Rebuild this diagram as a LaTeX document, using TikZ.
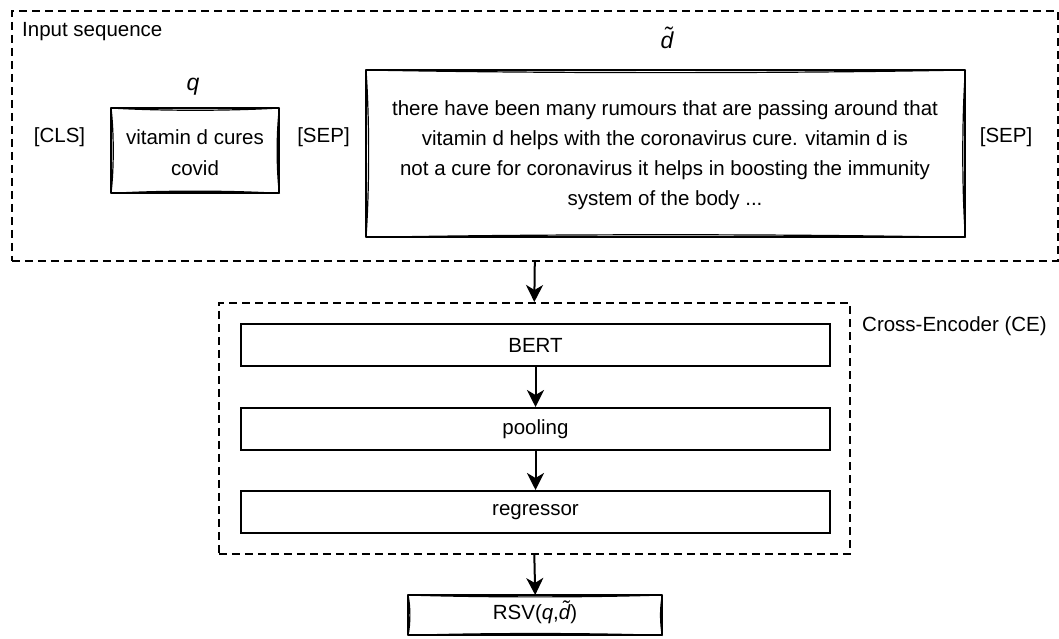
\documentclass[tikz,border=0pt]{standalone}
\usepackage{fontspec}
\setmainfont{Liberation Sans}
\usetikzlibrary{arrows.meta,calc}

\tikzset{
  txt/.style={font=\fontsize{20.5}{30}\selectfont, inner sep=0pt, align=center},
  biglabel/.style={font=\fontsize{23}{28}\selectfont\itshape, inner sep=0pt},
  dashbox/.style={draw, line width=1.6pt, dash pattern=on 8pt off 5pt, inner sep=0pt, anchor=north west},
  layerbox/.style={draw, line width=2pt, inner sep=0pt, anchor=north west, minimum width=589pt, minimum height=42pt, txt},
  roughnode/.style={inner sep=0pt, anchor=north west},
  arr/.style={line width=2pt, -{Stealth[length=17pt,width=17pt,inset=5pt]}},
  hand/.style={line width=2.1pt, line join=round},
  handthin/.style={line width=1.2pt},
}

% italic d carrying a tilde
\newcommand\dtil{\ooalign{d\cr\hidewidth\kern0.08em\raisebox{0.2em}{\char"02DC}\hidewidth\cr}}

% hand-drawn outline around a node: straight frame plus slightly bowed second strokes
\newcommand\roughframe[2]{%
  \draw[hand] (#1.north west) -- (#1.north east) -- (#1.south east) -- (#1.south west) -- cycle;
  \draw[handthin] (#1.north west) .. controls ($(#1.north west)!0.3!(#1.north east)+(0,#2)$) and ($(#1.north west)!0.7!(#1.north east)+(0,#2)$) .. (#1.north east);
  \draw[handthin] (#1.south west) .. controls ($(#1.south west)!0.3!(#1.south east)+(0,-#2)$) and ($(#1.south west)!0.7!(#1.south east)+(0,-#2)$) .. (#1.south east);
  \draw[handthin] (#1.north east) .. controls ($(#1.north east)!0.3!(#1.south east)+(-#2,0)$) and ($(#1.north east)!0.7!(#1.south east)+(-#2,0)$) .. (#1.south east);
  \draw[handthin] (#1.north west) .. controls ($(#1.north west)!0.3!(#1.south west)+(#2,0)$) and ($(#1.north west)!0.7!(#1.south west)+(#2,0)$) .. (#1.south west);
}

\begin{document}
\begin{tikzpicture}[x=1pt, y=-1pt]
  \useasboundingbox (0,0) rectangle (1059,639);

  % input sequence container
  \node[dashbox, minimum width=1046pt, minimum height=250pt] (inbox) at (11,10) {};
  \node[txt, anchor=west] (intitle) at (22,32) {Input sequence};

  % query
  \node[txt] (cls) at (59.5,137) {[CLS]};
  \node[biglabel] (qlab) at (193,87) {q};
  \node[roughnode, minimum width=168pt, minimum height=85pt] (qbox) at (111,108) {};
  \roughframe{qbox}{3}
  \node[txt, font=\fontsize{20.5}{31}\selectfont] (qtext) at (195,153) {vitamin d cures\\ covid};
  \node[txt] (sep1) at (323.5,137) {[SEP]};

  % document
  \node[biglabel] (dlab) at (667,40) {\dtil};
  \node[roughnode, minimum width=599pt, minimum height=167pt] (dbox) at (366,70) {};
  \roughframe{dbox}{3.5}
  \node[txt] (dtext) at (665,155)
    {there have been many rumours that are passing around that\\
     vitamin d helps with the coronavirus cure. vitamin d is\\
     not a cure for coronavirus it helps in boosting the immunity\\
     system of the body ...};
  \node[txt] (sep2) at (1006,137) {[SEP]};

  % cross-encoder
  \node[dashbox, minimum width=631pt, minimum height=251pt] (ce) at (218,302) {};
  \node[txt, anchor=west] (cetitle) at (862,326) {Cross-Encoder (CE)};
  \node[layerbox] (bert) at (240,323) {BERT};
  \node[layerbox] (pool) at (240,407) {pooling};
  \node[layerbox] (reg) at (240,490) {regressor};

  % output score
  \node[roughnode, minimum width=254pt, minimum height=40pt] (rsv) at (408,595) {};
  \roughframe{rsv}{2.5}
  \node[txt] (rsvtext) at (535,614) {RSV(\textit{q},\textit{\dtil})};

  % connectors
  \draw[arr] (inbox.south) -- (ce.north);
  \draw[arr] (bert.south) -- (pool.north);
  \draw[arr] (pool.south) -- (reg.north);
  \draw[arr] (ce.south) -- (rsv.north);
\end{tikzpicture}
\end{document}
